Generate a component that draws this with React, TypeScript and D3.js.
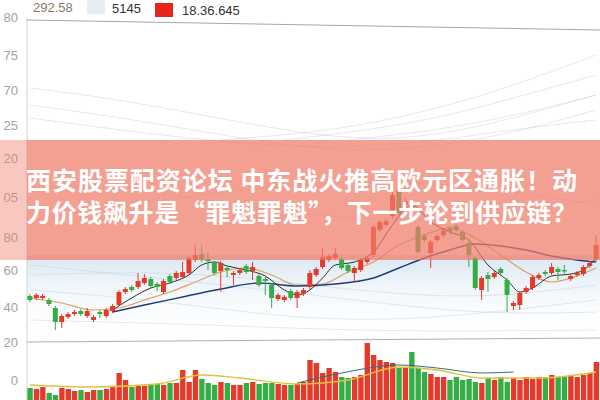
import React from "react";
import * as d3 from "d3";

// price candles: open, close, high, low (yuan)
const opens = [10.4,10.2,10.2,10.0,9.2,7.8,8.3,8.6,8.9,8.4,8.0,8.8,8.4,8.9,9.5,10.8,11.3,11.3,11.7,12.1,11.6,10.8,12.4,12.2,12.3,12.7,14.0,14.6,14.1,13.7,12.9,13.2,12.5,12.7,13.4,12.9,12.4,12.1,11.5,10.1,10.0,10.9,10.2,10.6,11.3,12.5,13.3,14.0,14.2,14.1,13.5,12.7,13.0,13.8,14.5,17.0,17.5,18.4,21.0,19.5,19.5,17.3,16.4,14.7,16.0,16.5,17.2,17.4,16.8,15.7,14.2,11.0,12.5,12.3,13.1,12.0,9.4,9.5,10.8,11.2,12.2,12.8,12.7,13.1,13.0,12.1,12.5,12.6,13.4,14.1];
const closes = [10.0,10.5,10.4,9.6,7.8,8.4,8.6,8.8,8.6,8.9,8.3,8.6,9.0,9.4,10.8,11.1,11.0,11.9,12.2,11.4,11.3,11.9,11.8,12.7,12.8,14.2,14.5,14.0,13.9,12.7,13.7,13.0,12.7,13.0,12.8,13.3,11.5,11.9,10.2,10.5,10.3,10.2,10.8,11.0,12.7,13.1,14.3,14.4,14.6,13.2,12.9,13.2,14.0,14.2,17.3,17.8,17.9,20.5,18.7,19.9,19.1,14.8,16.0,15.8,16.4,16.9,16.8,17.0,16.0,14.5,11.2,12.2,12.1,12.7,12.7,10.5,9.7,10.7,11.2,12.3,12.5,12.6,13.3,12.8,12.9,12.4,12.7,13.3,13.7,15.5];
const highs = [10.6,10.7,10.6,10.2,9.4,8.6,8.8,9.0,9.1,9.2,8.5,9.0,9.2,9.6,11.0,11.3,11.5,12.7,12.6,12.3,11.8,12.1,12.6,12.9,13.8,14.4,15.5,15.5,14.8,13.9,13.9,13.4,12.9,13.2,13.6,13.8,12.6,12.3,11.7,10.7,10.5,11.1,11.0,11.2,13.0,13.3,15.2,14.6,15.2,14.3,13.7,13.4,14.2,14.4,17.5,18.0,18.1,20.8,21.3,20.2,19.7,17.5,16.6,16.0,16.6,17.1,17.4,17.6,17.0,15.9,14.4,12.4,12.8,12.9,13.3,12.2,9.9,10.9,11.4,12.5,12.7,13.0,13.7,13.3,13.5,12.6,12.9,13.5,13.9,16.5];
const lows = [9.8,10.0,10.0,9.4,7.0,7.2,8.1,8.4,8.4,8.2,7.8,8.2,8.2,8.7,9.4,10.6,10.8,11.1,11.5,11.2,10.9,10.6,11.6,12.0,12.1,12.6,13.8,13.8,13.0,12.5,10.8,12.3,11.5,12.5,12.6,12.0,11.3,10.5,9.2,9.9,9.8,10.0,9.2,10.4,11.1,12.3,13.1,13.8,14.0,13.0,12.7,11.8,12.8,13.6,14.3,16.8,17.3,18.2,18.5,19.3,18.9,14.6,15.8,13.2,15.8,16.3,16.6,16.8,15.8,13.3,11.0,10.0,10.8,12.1,12.5,8.8,9.0,9.0,10.6,11.0,12.0,12.4,12.5,12.0,12.5,11.9,12.3,12.4,13.2,13.9];

// volume (thousand lots)
const volumes = [12,11,13,7,5,12,11,9,10,8,10,10,11,13,27,20,13,15,14,15,16,15,17,17,30,18,30,21,17,15,18,17,15,15,17,18,16,17,17,16,15,15,16,18,40,37,27,32,28,23,22,23,25,57,45,40,38,37,32,32,48,32,28,26,23,23,20,23,20,21,18,17,22,20,23,18,22,20,23,21,23,23,25,23,23,25,23,25,27,38];

// moving averages: [candle index, price]
const maShort: [number, number][] = [[13,9.0],[16,10.2],[19,11.2],[22,11.7],[25,12.5],[27,13.5],[29,13.8],[31,13.4],[34,13.0],[37,12.4],[40,11.0],[42,10.5],[44,11.0],[46,12.2],[48,13.5],[51,13.8],[54,14.8],[57,17.5],[60,19.5],[63,17.8],[66,16.8],[69,16.0],[72,13.5],[75,12.0],[77,10.8],[79,11.2],[82,12.4],[85,12.6],[87,13.0],[89,14.2]];
const maMid: [number, number][] = [[0,10.2],[5,9.7],[10,9.0],[14,9.2],[18,10.0],[22,10.8],[26,11.8],[30,12.8],[34,13.2],[38,12.5],[42,11.5],[46,11.6],[50,12.8],[54,13.8],[58,15.5],[62,16.5],[66,17.2],[70,16.2],[74,14.5],[78,12.8],[82,11.8],[86,12.4],[89,13.2]];
const maLong: [number, number][] = [[13,8.8],[18,9.5],[24,10.3],[30,11.1],[36,11.7],[42,11.4],[48,11.6],[54,12.2],[58,13.2],[62,14.2],[66,15.0],[70,15.6],[74,15.4],[78,15.0],[82,14.4],[86,14.0],[89,13.8]];
const volMa: [number, number][] = [[0,15],[10,13],[20,16],[27,25],[33,22],[42,16],[50,20],[58,33],[64,30],[71,22],[80,22],[89,28]];
const volMa2: [number, number][] = [[42,17],[49,27],[58,35],[64,32],[71,27],[76,28]];

// faint background traces
const bgTraces: [number, number][][] = [
  [[0,31.2],[15,30.0],[35,27.5],[50,26.0],[65,26.2],[89,30.5]],
  [[0,29.5],[15,28.2],[30,26.5],[45,25.0],[60,25.0],[75,26.5],[89,29.0]],
  [[0,28.2],[20,26.5],[40,25.2],[60,25.5],[75,27.0],[89,28.0]],
  [[30,26.0],[50,27.0],[70,30.0],[89,34.5]],
  [[40,26.0],[60,27.5],[75,30.0],[89,32.5]],
  [[50,26.0],[65,27.0],[80,29.0],[89,30.5]],
  [[0,11.0],[20,10.0],[40,8.2],[60,7.8],[89,10.0]],
  [[0,12.5],[25,13.0],[50,11.0],[70,10.0],[89,11.5]],
  [[0,8.0],[30,7.5],[55,6.8],[89,7.0]],
  [[0,13.5],[20,12.2],[45,10.5],[70,8.5],[89,8.8]],
  [[10,22.0],[35,19.0],[60,17.5],[89,20.0]],
  [[0,18.0],[30,21.0],[60,22.5],[89,19.5]],
];

const axisLabels = ["80", "75", "70", "25", "20", "05", "80", "60", "40", "20", "0"];
const axisLabelY = [17, 55, 90, 125, 158, 197, 237, 270, 307, 342, 380];
const legendItems = ["292.58", "5145", "18.36.645"];
const titleLines = ["西安股票配资论坛 中东战火推高欧元区通胀！动", "力价钱飙升是“罪魁罪魁”，下一步轮到供应链？"];

const UP = "#e5392a";
const DOWN = "#35ad45";

export default function App() {
  const W = 600, H = 400;
  const idx = d3.range(opens.length);
  const x = d3.scaleBand<number>().domain(idx).range([26, 600]).padding(0.22);
  const bw = x.bandwidth();
  const cx = (i: number) => (x(i) ?? 0) + bw / 2;
  const y = d3.scaleLinear().domain([0, 40]).range([400, 0]);
  const vy = d3.scaleLinear().domain([0, 60]).range([400, 340]);
  const labelScale = d3.scaleOrdinal<number, number>().domain(d3.range(axisLabels.length)).range(axisLabelY);

  const priceLine = d3.line<[number, number]>().x(d => cx(d[0])).y(d => y(d[1])).curve(d3.curveMonotoneX);
  const bgLine = d3.line<[number, number]>().x(d => cx(d[0])).y(d => y(d[1])).curve(d3.curveBasis);
  const volLine = d3.line<[number, number]>().x(d => cx(d[0])).y(d => vy(d[1])).curve(d3.curveMonotoneX);

  return (
    <svg width={W} height={H} style={{ position: "absolute", left: 0, top: 0, background: "#fff" }}
      fontFamily="'Liberation Sans', Arial, sans-serif">
      <defs>
        <linearGradient id="wash" x1="0" y1="0" x2="0" y2="1">
          <stop offset="0" stopColor="#cfe0f0" stopOpacity={0.8} />
          <stop offset="1" stopColor="#ffffff" stopOpacity={0} />
        </linearGradient>
      </defs>
      <rect x={27} y={255} width={573} height={85} fill="url(#wash)" />

      {bgTraces.map((t, k) => (
        <path key={k} d={bgLine(t) ?? ""} fill="none" stroke="#b9c7d6" strokeOpacity={0.5} strokeWidth={0.8} />
      ))}

      {/* frame lines */}
      <line x1={27} x2={27} y1={18} y2={400} stroke="#d2d2d2" />
      <line x1={27} x2={600} y1={20} y2={30} stroke="#8f8f8f" strokeWidth={0.8} />
      <line x1={27} x2={600} y1={342} y2={338} stroke="#9a9a9a" strokeWidth={0.8} />

      {axisLabels.map((l, k) => (
        <text key={k} x={18} y={labelScale(k)} dy="0.35em" textAnchor="end" fontSize={13} fill="#a3a3a3">{l}</text>
      ))}

      {/* legend */}
      <text x={33} y={12} fontSize={13} fill="#8a7766">{legendItems[0]}</text>
      <rect x={87} y={0} width={18} height={14} fill="#e6edf3" />
      <text x={112} y={13} fontSize={13} fill="#333">{legendItems[1]}</text>
      <rect x={155} y={3} width={18} height={14} fill="#e8231b" />
      <text x={182} y={15} fontSize={13} fill="#333">{legendItems[2]}</text>

      {/* volume */}
      {volumes.map((v, i) => (
        <rect key={i} x={x(i)} y={vy(v)} width={bw + 0.4} height={400 - vy(v)}
          fill={closes[i] >= opens[i] ? UP : DOWN} />
      ))}
      <path d={volLine(volMa) ?? ""} fill="none" stroke="#e3c13a" strokeWidth={1.3} />
      <path d={volLine(volMa2) ?? ""} fill="none" stroke="#2f6f7d" strokeWidth={1} />

      {/* moving averages */}
      <path d={priceLine(maMid) ?? ""} fill="none" stroke="#e0a060" strokeWidth={1.2} />
      <path d={priceLine(maLong) ?? ""} fill="none" stroke="#1f3c78" strokeWidth={1.4} />
      <path d={priceLine(maShort) ?? ""} fill="none" stroke="#2e2e2e" strokeWidth={1} />

      {/* candles */}
      {idx.map(i => {
        const up = closes[i] >= opens[i];
        const c = up ? UP : DOWN;
        const top = y(Math.max(opens[i], closes[i]));
        const bot = y(Math.min(opens[i], closes[i]));
        return (
          <g key={i}>
            <line x1={cx(i)} x2={cx(i)} y1={y(highs[i])} y2={y(lows[i])} stroke={c} strokeWidth={1} />
            <rect x={x(i)} y={top} width={bw} height={Math.max(1.5, bot - top)} fill={c} />
          </g>
        );
      })}

      {/* banner overlay */}
      <rect x={0} y={140} width={27} height={120} fill="#ee7c68" fillOpacity={0.42} />
      <rect x={27} y={140} width={573} height={120} fill="#ee7c68" fillOpacity={0.72} />
      {titleLines.map((t, k) => (
        <text key={k} x={26} y={190 + k * 32} textLength={551} lengthAdjust="spacing"
          fontFamily="'Noto Sans CJK SC', sans-serif" fontWeight={700} fontSize={25} fill="#fff">{t}</text>
      ))}
    </svg>
  );
}
